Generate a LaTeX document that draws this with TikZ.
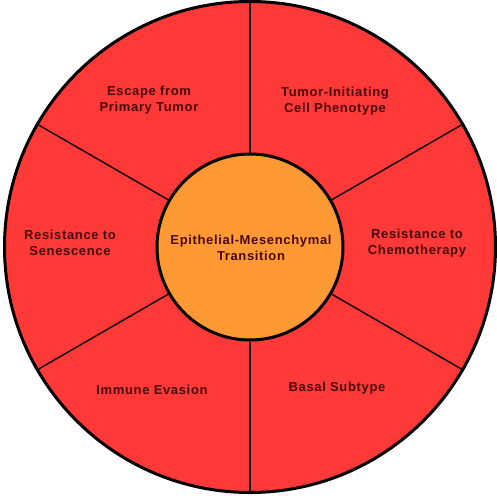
\documentclass[tikz,border=0pt]{standalone}
\usepackage{fontspec}
\setmainfont{Liberation Sans}[LetterSpace=5]
\definecolor{sectorred}{HTML}{FF3838}
\definecolor{coreorange}{HTML}{FF9933}
\definecolor{labeltext}{HTML}{4A0A0A}
\begin{document}
\begin{tikzpicture}[x=1pt,y=-1pt,
  ring/.style={circle,draw=black,line width=3pt,fill=sectorred,inner sep=0pt,minimum size=491pt},
  core/.style={circle,draw=black,line width=3pt,fill=coreorange,inner sep=0pt,minimum size=186pt},
  divider/.style={draw=black!85!labeltext,line width=1.4pt},
  lbl/.style={align=center,font=\fontsize{13pt}{16pt}\selectfont\bfseries,text=labeltext}]
\useasboundingbox (0,0) rectangle (496,496);
\node[ring] (outer) at (250,247) {};
\node[core,draw=none,fill=none] (innerb) at (250,247) {};
\foreach \a in {90,30,-30,-90,-150,150}
  \draw[divider] (innerb.\a) -- (outer.\a);
\node[core] (inner) at (250,247) {};
\node[lbl] (emt) at (251,248) {Epithelial-Mesenchymal\\Transition};
\node[lbl] (escape) at (149,100) {Escape from\\Primary Tumor};
\node[lbl] (tic) at (335,101) {Tumor-Initiating\\Cell Phenotype};
\node[lbl] (chemo) at (417,243) {Resistance to\\Chemotherapy};
\node[lbl] (senes) at (70,243) {Resistance to\\Senescence};
\node[lbl] (basal) at (337,388) {Basal Subtype};
\node[lbl] (immune) at (152,390) {Immune Evasion};
\end{tikzpicture}
\end{document}
